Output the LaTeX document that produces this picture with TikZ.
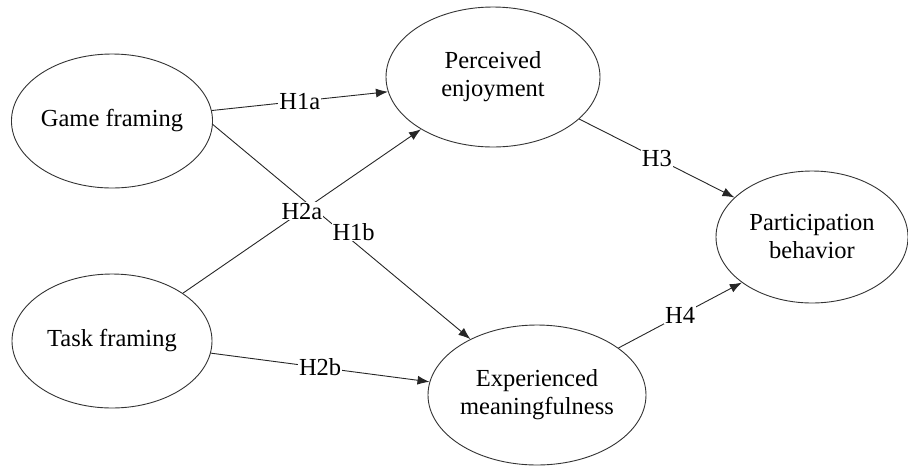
\documentclass[tikz,border=0pt]{standalone}
\usepackage{fontspec}
\setmainfont{Liberation Serif}
\usetikzlibrary{shapes.geometric,arrows.meta}
\begin{document}
\begin{tikzpicture}[x=1pt,y=-1pt,
  latent/.style={ellipse,draw=black!80,line width=0.9pt,inner sep=0pt,align=center,
    font=\fontsize{24.5}{28}\selectfont},
  hpath/.style={draw=black!85,line width=0.9pt,-{Latex[length=12pt,width=9pt]}},
  hlab/.style={fill=white,inner sep=1pt,font=\fontsize{24.5}{28}\selectfont}]
\useasboundingbox (0,0) rectangle (908,467);
\node[latent,minimum width=200pt,minimum height=134pt] (game) at (112,121) {Game framing};
\node[latent,minimum width=200pt,minimum height=134pt] (task) at (112,341) {Task framing};
\node[latent,minimum width=214pt,minimum height=140pt] (perc) at (493,77) {Perceived\\enjoyment};
\node[latent,minimum width=218pt,minimum height=140pt] (expm) at (537,395) {Experienced\\meaningfulness};
\node[latent,minimum width=192pt,minimum height=132pt] (part) at (812,237) {Participation\\behavior};
\draw[hpath] (game.6) -- node[hlab]{H1a} (perc.188);
\draw[hpath] (game.-2) -- node[hlab,pos=0.5,xshift=12pt]{H1b} (expm.140);
\draw[hpath] (task.34) -- node[hlab]{H2a} (perc.216);
\draw[hpath] (task.-7) -- node[hlab]{H2b} (expm.173);
\draw[hpath] (perc.-26) -- node[hlab]{H3} (part.153);
\draw[hpath] (expm.30) -- node[hlab]{H4} (part.213);
\end{tikzpicture}
\end{document}
